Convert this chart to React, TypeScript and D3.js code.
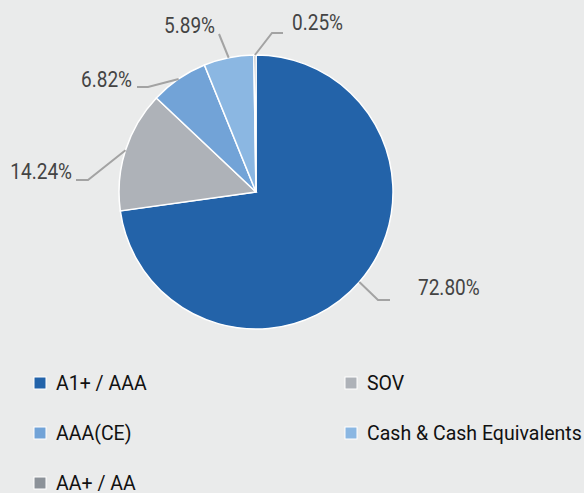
import React from "react";
import * as d3 from "d3";

const categories = ["A1+ / AAA", "SOV", "AAA(CE)", "Cash & Cash Equivalents", "AA+ / AA"];
const values = [72.8, 14.24, 6.82, 5.89, 0.25];
const valueLabels = ["72.80%", "14.24%", "6.82%", "5.89%", "0.25%"];
const colors = ["#2363a9", "#aeb2b8", "#72a3d7", "#8bb7e2", "#8c9299"];

// label layout: elbow offset from centre, horizontal end offset, text anchor offset & baseline
const labelLayout = [
  { ex: 122, ey: 108, endX: 134, tx: 162, ty: 103, anchor: "start" },
  { ex: -168, ey: -12, endX: -180, tx: -184, ty: -13, anchor: "end" },
  { ex: -108, ey: -105, endX: -119, tx: -124, ty: -105, anchor: "end" },
  { ex: -37, ey: -158, endX: -37, tx: -41, ty: -159, anchor: "end" },
  { ex: 16, ey: -159, endX: 27, tx: 36, ty: -162, anchor: "start" },
];

const W = 584;
const H = 493;
const cx = 256;
const cy = 192;
const R = 137;
const FONT = "Roboto, 'Liberation Sans', sans-serif";
const LABEL_SX = 0.865;
const LEGEND_SX = 0.93;

export default function App() {
  const pie = d3.pie<number>().sort(null).value((d) => d)(values);
  const arc = d3.arc<d3.PieArcDatum<number>>().innerRadius(0).outerRadius(R);

  const legendX = [34, 345];
  const legendY0 = 377;
  const legendStep = 50;

  return (
    <div style={{ position: "fixed", left: 0, top: 0, width: W, height: H }}>
      <svg width={W} height={H} style={{ display: "block" }}>
        <rect width={W} height={H} fill="#eaebeb" />
        <g transform={`translate(${cx},${cy})`}>
          {pie.map((p, i) => (
            <path key={i} d={arc(p) || ""} fill={colors[i]} stroke="#ffffff" strokeWidth={1.5} />
          ))}
          {pie.map((p, i) => {
            const a = (p.startAngle + p.endAngle) / 2;
            const ax = Math.sin(a) * R;
            const ay = -Math.cos(a) * R;
            const L = labelLayout[i];
            return (
              <g key={"l" + i}>
                <polyline
                  points={`${ax},${ay} ${L.ex},${L.ey} ${L.endX},${L.ey}`}
                  fill="none"
                  stroke="#a3a3a3"
                  strokeWidth={2}
                />
                <text
                  transform={`translate(${L.tx},${L.ty}) scale(${LABEL_SX},1)`}
                  textAnchor={L.anchor as any}
                  fontFamily={FONT}
                  fontSize={22}
                  fill="#444444"
                >
                  {valueLabels[i]}
                </text>
              </g>
            );
          })}
        </g>
        {categories.map((c, i) => {
          const col = i % 2;
          const row = Math.floor(i / 2);
          const x = legendX[col];
          const y = legendY0 + row * legendStep;
          return (
            <g key={"lg" + i}>
              <rect x={x} y={y} width={12} height={12} fill={colors[i]} stroke="#ffffff" strokeWidth={1} />
              <text
                transform={`translate(${x + 22},${y + 13}) scale(${LEGEND_SX},1)`}
                fontFamily={FONT}
                fontSize={21}
                fill="#111111"
              >
                {c}
              </text>
            </g>
          );
        })}
      </svg>
    </div>
  );
}
